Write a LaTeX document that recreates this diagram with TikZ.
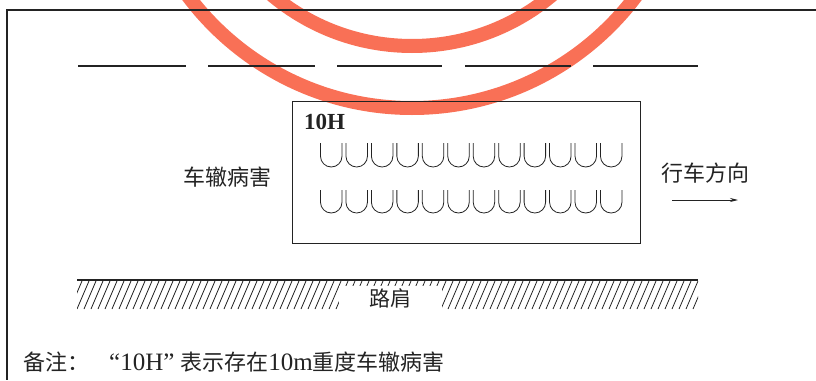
\documentclass[tikz,border=0pt]{standalone}
\usepackage{fontspec}
\setmainfont{Liberation Serif}
\newfontfamily\cjk{Noto Sans CJK SC}
\usetikzlibrary{arrows.meta}
\definecolor{stampred}{RGB}{249,112,86}
\definecolor{ink}{RGB}{35,35,35}
\begin{document}
\begin{tikzpicture}[x=1pt,y=-1pt,
  frameline/.style={line width=1.4pt,draw=ink},
  laneline/.style={line width=1.5pt,draw=ink},
  boxline/.style={line width=1.1pt,draw=ink},
  uline/.style={line width=0.8pt,draw=ink},
  hatchline/.style={line width=0.8pt,draw=ink},
  ring/.style={draw=stampred,line width=14pt},
  cjklabel/.style={inner sep=0pt,text=ink,font=\cjk\fontsize{22}{26}\selectfont},
]
\useasboundingbox (0,0) rectangle (816,380);
% red stamp rings
\begin{scope}
  \clip (0,0) rectangle (816,380);
  \draw[ring] (412,-172) circle[radius=218pt];
  \draw[ring] (412,-172) circle[radius=280pt];
\end{scope}
% frame
\draw[frameline] (816,10) -- (7,10) -- (7,380);
% lane dashes
\foreach \a/\b in {78/186,208/315,337/442,465/571,593/698}
  \draw[laneline] (\a,66) -- (\b,66);
% rut box
\node[boxline,draw,minimum width=348pt,minimum height=142pt,inner sep=0pt] (box) at (466.5,172.5) {};
\node[anchor=base west,inner sep=0pt,text=ink,font=\bfseries\fontsize{23}{27}\selectfont] (tag) at (304,129) {10H};
% U marks
\foreach \i in {0,...,11}{
  \pgfmathsetmacro\xl{320.5+25.45*\i}
  \pgfmathsetmacro\xr{\xl+21.5}
  \draw[uline] (\xl,143) -- (\xl,156.25) arc[start angle=180,end angle=360,radius=10.75pt] -- (\xr,143);
  \draw[uline] (\xl,190) -- (\xl,202.25) arc[start angle=180,end angle=360,radius=10.75pt] -- (\xr,190);
}
% labels
\node[cjklabel] (rut) at (227,177) {车辙病害};
\node[cjklabel] (dir) at (705.5,173) {行车方向};
\coordinate (arrS) at (672,200);
\coordinate (arrE) at (738,200);
\draw[line width=0.9pt,draw=ink,-{Stealth[length=8pt,width=4pt]}] (arrS) -- (arrE);
% shoulder
\draw[laneline] (77,280) -- (698,280);
\begin{scope}
  \clip (77,281) rectangle (698,309);
  \foreach \x in {63,70,...,700}
    \draw[hatchline] (\x,309) -- (\x+12,281);
\end{scope}
\node[fill=white,inner sep=0pt,minimum width=103pt,minimum height=26pt,text=ink,font=\cjk\fontsize{21}{25}\selectfont] (shoulder) at (390,298.5) {路肩};
% note
\node[anchor=base west,inner sep=0pt,text=ink] (note) at (23,370.5)
  {\cjk\fontsize{22}{26}\selectfont 备注：\hspace{20pt}{\rmfamily\fontsize{25}{28}\selectfont “10H”}\hspace{6pt}表示存在{\rmfamily\fontsize{25}{28}\selectfont 10m}重度车辙病害};
\end{tikzpicture}
\end{document}
